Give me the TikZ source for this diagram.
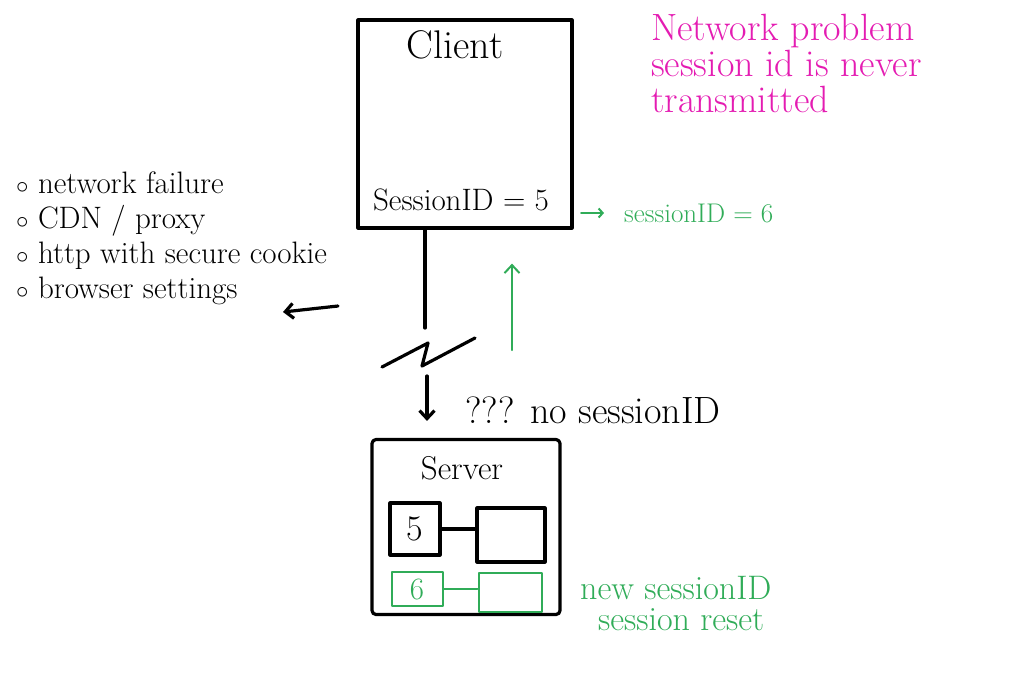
\documentclass[tikz,border=0pt]{standalone}
\usetikzlibrary{positioning,arrows.meta}

\definecolor{penpink}{RGB}{228,28,178}
\definecolor{pengreen}{RGB}{48,172,88}

\tikzset{
  pen/.style={line width=3.2pt, line cap=round, line join=round},
  greenpen/.style={line width=2pt, pengreen, line cap=round, line join=round},
  barb/.style={-{Straight Barb[length=8pt,width=15pt]}},
  hand/.style={inner sep=0pt, font=\fontsize{31}{35}\selectfont},
  title/.style={inner sep=0pt, font=\fontsize{40}{40}\selectfont},
  note/.style={inner sep=0pt, align=left, text=pengreen, font=\fontsize{34}{33}\selectfont},
  slot/.style={draw, pen, inner sep=0pt},
  newslot/.style={draw, greenpen, inner sep=0pt, text=pengreen}
}

\begin{document}
\begin{tikzpicture}[x=1pt, y=-1pt]
  \useasboundingbox (0,0) rectangle (1024,686);

  % client
  \node[draw, pen, minimum width=214pt, minimum height=208pt] (client) at (465,124) {};
  \node[title] (clientlbl) at (455,45) {Client};
  \node[hand] (sid5) at (461,200) {SessionID = 5};

  % server
  \node[draw, pen, rounded corners=4pt, minimum width=188pt, minimum height=175pt] (server) at (466,527) {};
  \node[title, font=\fontsize{33}{36}\selectfont] (serverlbl) at (462,468) {Server};
  \node[slot, hand, font=\fontsize{36}{36}\selectfont, minimum width=50pt, minimum height=52pt] (old) at (415,529) {5};
  \node[slot, minimum width=68pt, minimum height=54pt] (oldval) at (511,535) {};
  \draw[pen] (old.east) -- (old.east -| oldval.west);
  \node[newslot, hand, minimum width=51pt, minimum height=34pt] (new) at (417,589) {6};
  \node[newslot, minimum width=63pt, minimum height=39pt] (newval) at (510,592) {};
  \draw[greenpen] (new.east) -- (new.east -| newval.west);

  % broken request
  \coordinate (breaktop) at (425,328);
  \coordinate (breakbot) at (427,376);
  \draw[pen] (client.south -| breaktop) -- (breaktop);
  \draw[pen] (382,367) -- (428,343) -- (422,366) -- (475,338);
  \draw[pen, barb, shorten >=17pt] (breakbot) -- (server.north -| breakbot);
  \node[hand, font=\fontsize{38}{40}\selectfont] (nosid) at (593,410) {??? no sessionID};

  % reply with new id
  \coordinate (replyfoot) at (512,350);
  \draw[greenpen, barb, shorten >=34pt] (replyfoot) -- (client.south -| replyfoot);
  \coordinate (sidarrow) at (581,213);
  \draw[greenpen, -{Straight Barb[length=4pt,width=9pt]}] (sidarrow) -- ++(23,0) coordinate (sidtip);
  \node[note, font=\fontsize{27}{30}\selectfont, right=20pt of sidtip] (sid6) {sessionID = 6};
  \node[note, anchor=north west] (reset) at (580,576) {new sessionID\\[-2pt]\hspace*{18pt}session reset};

  % causes
  \coordinate (hintstart) at (338,306);
  \draw[pen, barb] (hintstart) -- (283,312);
  \node[hand, align=left, anchor=north west] (causes) at (16,172)
    {$\circ$ network failure\\
     $\circ$ CDN / proxy\\
     $\circ$ http with secure cookie\\
     $\circ$ browser settings};

  % problem
  \node[title, align=left, anchor=north west, text=penpink, font=\fontsize{38}{36}\selectfont] (problem) at (651,14)
    {Network problem\\
     session id is never\\
     transmitted};
\end{tikzpicture}
\end{document}
